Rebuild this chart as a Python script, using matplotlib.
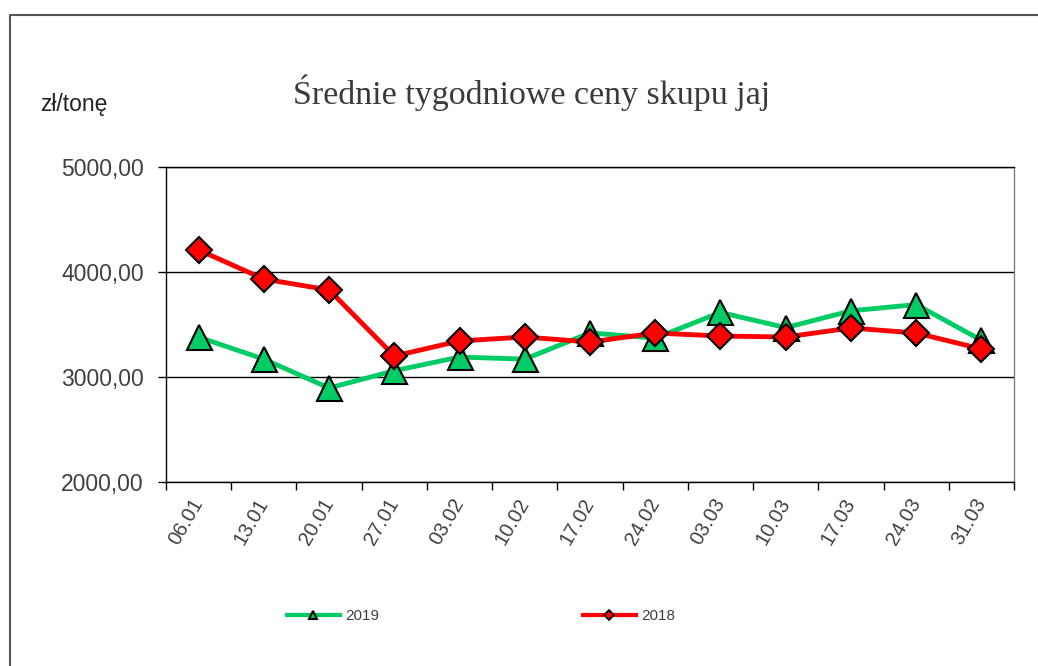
import matplotlib
matplotlib.use("Agg")
import matplotlib.pyplot as plt
from matplotlib.lines import Line2D
import numpy as np

weeks = ["06.01", "13.01", "20.01", "27.01", "03.02", "10.02", "17.02",
         "24.02", "03.03", "10.03", "17.03", "24.03", "31.03"]
price_2019 = [3380, 3170, 2895, 3060, 3190, 3170, 3420, 3370, 3615, 3470, 3630, 3690, 3350]
price_2018 = [4210, 3933, 3829, 3200, 3343, 3381, 3333, 3419, 3390, 3381, 3467, 3419, 3267]

green = "#00CC66"
red = "#FF0000"
txt = "#404040"

plt.rcParams["font.family"] = ["Liberation Sans", "DejaVu Sans"]

fig = plt.figure(figsize=(10.38, 6.66), dpi=100)
ax = fig.add_axes([166 / 1038, 1 - 482 / 666, 848 / 1038, 315 / 666])

x = np.arange(len(weeks))
ax.plot(x, price_2019, color=green, lw=3.5, marker="^", ms=18,
        markerfacecolor=green, markeredgecolor="black", markeredgewidth=1.5, zorder=3)
ax.plot(x, price_2018, color=red, lw=3.5, marker="D", ms=13.5,
        markerfacecolor=red, markeredgecolor="black", markeredgewidth=1.5, zorder=4)

ax.set_xlim(-0.5, len(weeks) - 0.5)
ax.set_ylim(2000, 5000)
ax.set_yticks([2000, 3000, 4000, 5000])
ax.set_yticklabels(["2000,00", "3000,00", "4000,00", "5000,00"])
ax.tick_params(axis="y", direction="out", length=6, width=1, pad=10,
               labelsize=16.5, labelcolor=txt)
ax.grid(axis="y", color="black", lw=1)

# ticks at category boundaries, labels at centers
ax.set_xticks(np.arange(-0.5, len(weeks), 1))
ax.set_xticklabels([])
ax.tick_params(axis="x", which="major", direction="out", length=6, width=1)
ax.set_xticks(x, minor=True)
ax.set_xticklabels(weeks, minor=True, rotation=60, ha="right", va="center",
                   rotation_mode="anchor")
ax.tick_params(axis="x", which="minor", length=0, pad=13, labelsize=14.5, labelcolor=txt)

for s in ["left", "bottom", "top"]:
    ax.spines[s].set_color("black")
    ax.spines[s].set_linewidth(1)
ax.spines["right"].set_color("#808080")
ax.spines["right"].set_linewidth(1)

fig.text(532 / 1038, 1 - 93 / 666, "Średnie tygodniowe ceny skupu jaj",
         family=["Liberation Serif", "DejaVu Serif"], fontsize=24.5, color="#3a3a3a",
         ha="center", va="center")
fig.text(40 / 1038, 1 - 104 / 666, "zł/tonę", fontsize=16.5, color="#222222",
         ha="left", va="center")

handles = [
    Line2D([], [], color=green, lw=3, marker="^", ms=6, markerfacecolor=green,
           markeredgecolor="black", markeredgewidth=1.5),
    Line2D([], [], color=red, lw=3, marker="D", ms=5, markerfacecolor=red,
           markeredgecolor="black", markeredgewidth=1.2),
]
leg = fig.legend(handles, ["2019", "2018"], loc="center", ncol=2,
                 bbox_to_anchor=(481 / 1038, 1 - 616 / 666), frameon=False,
                 fontsize=11, handlelength=3.5, handletextpad=0.35,
                 columnspacing=13.3, labelcolor=txt)

# outer chart border (extends past the right and bottom edges)
bx, by = 10 / 1038, 1 - 14.5 / 666
fig.add_artist(Line2D([bx, bx, 1.01], [-0.01, by, by], color="#555555", lw=1.5))

fig.savefig("out.png", dpi=100, facecolor="white")
